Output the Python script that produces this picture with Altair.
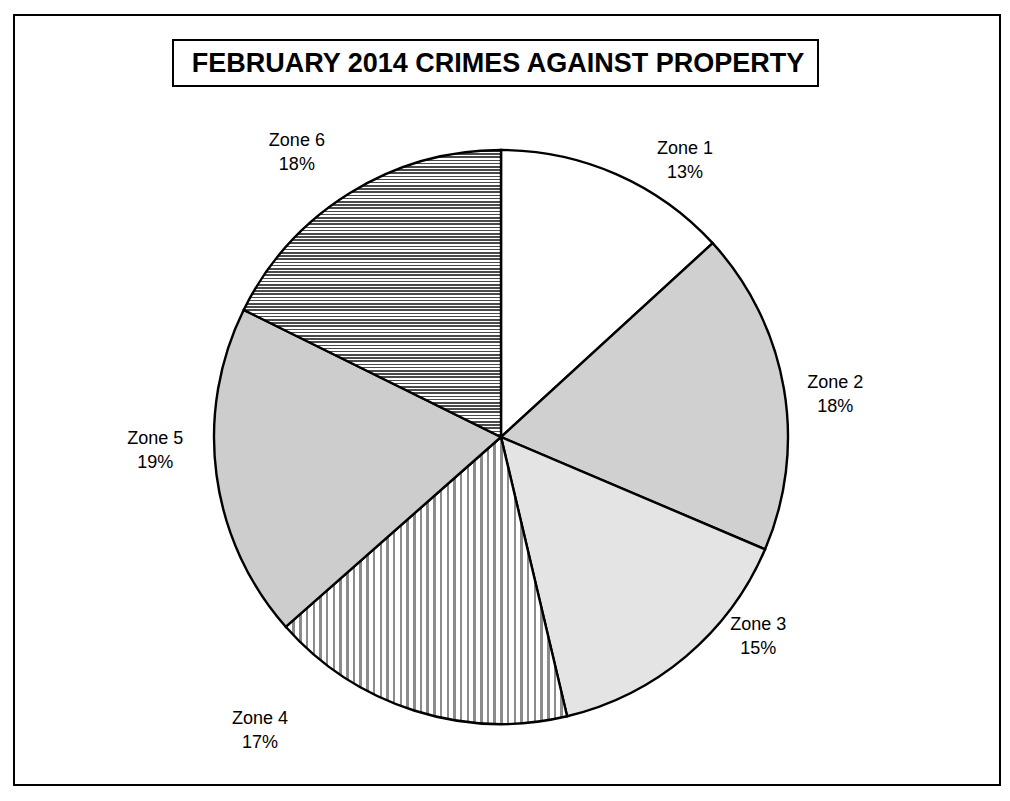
import altair as alt
import pandas as pd

# ---------------- data ----------------
zones = ["Zone 1", "Zone 2", "Zone 3", "Zone 4", "Zone 5", "Zone 6"]
shares = [13.2, 18.2, 14.9, 17.2, 18.8, 17.7]   # percent of total (labels round them)
title_text = "FEBRUARY 2014 CRIMES AGAINST PROPERTY"

# ---------------- layout / style constants ----------------
W, H = 986, 770            # plot area (the outer frame)
CX, CY, R = 487, 422, 287  # pie centre and radius inside the frame
# where the spreadsheet placed each label: shift (in % of circle) from slice middle, and distance
label_shift = [2.75, 0.69, -3.33, 6.03, 1.47, -1.06]
label_radius = [332, 337, 326, 380, 346, 350]
FONT = "Liberation Sans"
LH = 24


def stripes(vertical, periods, line_color, frac):
    stops = []
    for i in range(periods):
        a = i / periods
        b = (i + frac) / periods
        c = (i + 1) / periods
        stops += [
            {"offset": a, "color": line_color},
            {"offset": b, "color": line_color},
            {"offset": b, "color": "white"},
            {"offset": c, "color": "white"},
        ]
    g = {"gradient": "linear", "x1": 0, "y1": 0, "x2": 1 if vertical else 0,
         "y2": 0 if vertical else 1, "stops": stops}
    return g


fills = [
    "white",
    "#d0d0d0",
    "#e4e4e4",
    stripes(True, 42, "#8c8c8c", 0.38),
    "#cdcdcd",
    stripes(False, 90, "#4a4a4a", 0.5),
]

df = pd.DataFrame({
    "zone": zones,
    "share": shares,
    "idx": list(range(len(zones))),
    "shift": label_shift,
    "lr": label_radius,
})

theta_scale = alt.Scale(domain=[0, 100])

base = (
    alt.Chart(df)
    .transform_window(cum="sum(share)", sort=[alt.SortField("idx")], frame=[None, 0])
    .transform_calculate(
        start="datum.cum - datum.share",
        lab="datum.cum - datum.share / 2 + datum.shift",
        txt="datum.zone + '\\n' + format(datum.share, '.0f') + '%'",
    )
)

arcs = []
for i, z in enumerate(zones):
    arcs.append(
        base.transform_filter(alt.datum.zone == z)
        .mark_arc(fill=fills[i], stroke="black", strokeWidth=2.4, radius=R)
        .encode(
            theta=alt.Theta("start:Q", scale=theta_scale, stack=False),
            theta2="cum:Q",
            x=alt.value(CX),
            y=alt.value(CY),
        )
    )

labels = base.mark_text(
    lineBreak="\n", fontSize=18, lineHeight=LH, font=FONT, color="black",
    align="center", baseline="middle", dy=-LH / 2,
).encode(
    theta=alt.Theta("lab:Q", scale=theta_scale, stack=False),
    radius=alt.Radius("lr:Q", scale=None),
    x=alt.value(CX),
    y=alt.value(CY),
    text="txt:N",
)

tdf = pd.DataFrame({"t": [title_text]})
title_box = alt.Chart(tdf).mark_rect(filled=False, stroke="black", strokeWidth=2).encode(
    x=alt.value(159), x2=alt.value(804), y=alt.value(25), y2=alt.value(71)
)
title_txt = alt.Chart(tdf).mark_text(
    fontSize=27, fontWeight="bold", font=FONT, color="black", align="center", baseline="middle"
).encode(x=alt.value(484), y=alt.value(49), text="t:N")

chart = (
    alt.layer(*arcs, labels, title_box, title_txt)
    .properties(width=W, height=H, autosize="none",
                padding={"left": 6, "top": 7, "right": 2, "bottom": 2})
    .configure_view(stroke="black", strokeWidth=2)
)

chart.save("out.html", embed_options={"renderer": "svg", "actions": False})
